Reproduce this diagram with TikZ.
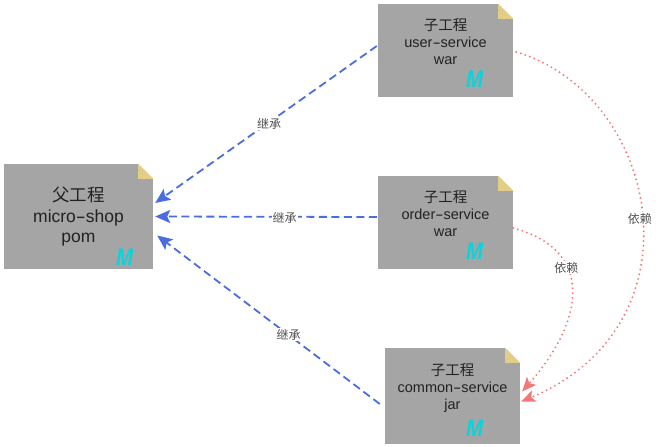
\documentclass[tikz,border=0pt]{standalone}
\usepackage{fontspec}
\setmainfont{Liberation Sans}
\newfontfamily\cjk{Noto Sans CJK SC}
\usetikzlibrary{arrows.meta,calc}
\definecolor{boxgrey}{HTML}{A5A5A5}
\definecolor{foldtan}{HTML}{E3CE87}
\definecolor{inherit}{HTML}{4A6EE0}
\definecolor{depend}{HTML}{F07A7A}
\definecolor{logocyan}{HTML}{08D4DE}
\definecolor{inktext}{HTML}{222222}
\definecolor{edgetext}{HTML}{505050}
% stretched hyphen of the module names
\newcommand{\hy}{\scalebox{1.7}[1]{-}}
\newcommand{\mavenM}{\scalebox{.85}[1]{M}}
\tikzset{
  x=1pt,y=-1pt,
  pomfile/.style={fill=boxgrey,draw=none,inner sep=0pt,rectangle},
  bigpom/.style={pomfile,minimum width=149pt,minimum height=105pt},
  smallpom/.style={pomfile,minimum width=135pt,minimum height=93pt},
  lowpom/.style={pomfile,minimum width=135pt,minimum height=96pt},
  bigtext/.style={align=center,text=inktext,inner sep=0pt,font=\fontsize{17.5}{20.5}\selectfont},
  smalltext/.style={align=center,text=inktext,inner sep=0pt,font=\fontsize{14.5}{17}\selectfont},
  mavenmark/.style={text=logocyan,inner sep=0pt,font=\fontsize{24}{24}\selectfont\bfseries\itshape},
  extends/.style={draw=inherit,line width=1.8pt,dash pattern=on 8pt off 4.5pt,
    -{Stealth[length=15pt,width=13pt,inset=3pt]}},
  uses/.style={draw=depend,line width=2.1pt,line cap=round,dash pattern=on 0pt off 4.8pt,
    -{Stealth[length=14pt,width=12pt,inset=3pt]}},
  edgelabel/.style={fill=white,text=edgetext,inner sep=1pt,font=\cjk\fontsize{12}{12}\selectfont},
}
% dog-ear in the top right corner of a file box
\newcommand{\dogear}[1]{%
  \fill[white] ($(#1.north east)+(-15pt,0)$) -- (#1.north east) -- ($(#1.north east)+(0,-15pt)$) -- cycle;
  \fill[foldtan] ($(#1.north east)+(-15pt,0)$) -- ($(#1.north east)+(0,-15pt)$) -- ($(#1.north east)+(-15pt,-15pt)$) -- cycle;
}
\begin{document}
\begin{tikzpicture}
\useasboundingbox (0,0) rectangle (667,447);
\fill[white] (0,0) rectangle (667,447);

% file boxes
\node[bigpom]   (parent) at (78.5,216.5) {};
\node[smallpom] (user)   at (445.5,50.5) {};
\node[smallpom] (order)  at (445.5,222.5) {};
\node[lowpom]   (common) at (452.5,396) {};
\dogear{parent}
\dogear{user}
\dogear{order}
\dogear{common}

% box captions
\node[bigtext]   (parentcap) at (78.5,217)  {{\cjk 父工程}\\micro\hy shop\\pom};
\node[smalltext] (usercap)   at (445.5,42)  {{\cjk 子工程}\\user\hy service\\war};
\node[smalltext] (ordercap)  at (445.5,214) {{\cjk 子工程}\\order\hy service\\war};
\node[smalltext] (commoncap) at (452.5,388) {{\cjk 子工程}\\common\hy service\\jar};

% Maven marks
\node[mavenmark] (parentm) at (124.5,257) {\mavenM};
\node[mavenmark] (userm)   at (474.5,79)  {\mavenM};
\node[mavenmark] (orderm)  at (474.5,251) {\mavenM};
\node[mavenmark] (commonm) at (474.5,428) {\mavenM};

% inheritance connectors
\draw[extends] ([xshift=-1pt,yshift=4.5pt]user.west) -- node[edgelabel,pos=0.49,xshift=1pt,yshift=-1pt]{继承} ([xshift=2pt,yshift=13.5pt]parent.east);
\draw[extends] ([xshift=-1pt,yshift=5.5pt]order.west) -- node[edgelabel,pos=0.42,yshift=-1.5pt,xshift=1pt]{继承} ([xshift=2pt]parent.east);
\draw[extends] ([xshift=-5pt,yshift=-8pt]common.west) -- node[edgelabel,pos=0.41]{继承} ([xshift=4pt,yshift=-19pt]parent.east);

% dependency connectors
\draw[uses] ([xshift=3pt,yshift=-1.5pt]user.east)
  .. controls (660,95) and (705,325) .. node[edgelabel,pos=0.51,xshift=-2pt]{依赖} ([xshift=1pt,yshift=-5.5pt]common.east);
\draw[uses] ([yshift=-5.5pt]order.east)
  .. controls (595,250) and (585,320) .. node[edgelabel,pos=0.355,xshift=-1pt]{依赖} ([xshift=2pt,yshift=4.5pt]common.east);
\end{tikzpicture}
\end{document}
